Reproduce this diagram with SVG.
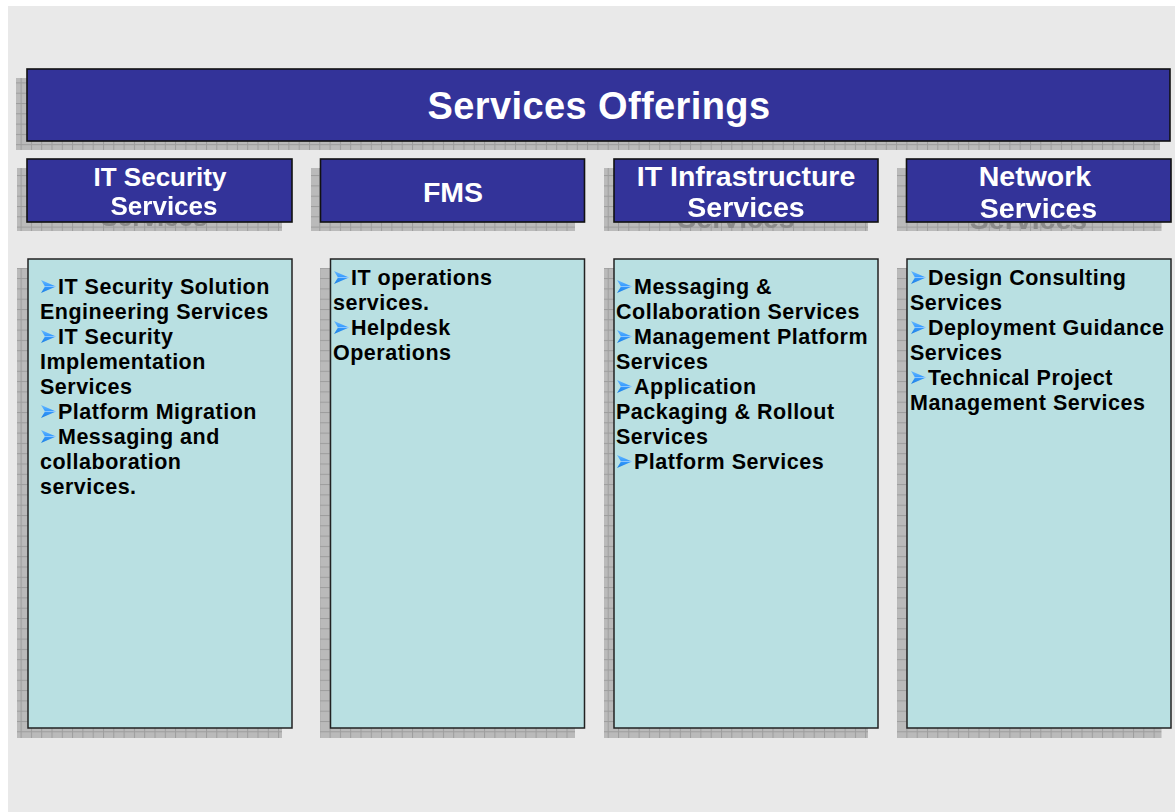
<svg xmlns="http://www.w3.org/2000/svg" width="1175" height="812" viewBox="0 0 1175 812">
<style>
.bg{fill:#e9e9e9}
.shadow{fill:url(#grid)}
.hdr{fill:#333399;stroke:#111;stroke-width:1.6}
.box{fill:#b9e0e2;stroke:#222;stroke-width:1.5}
.title{font-family:"Liberation Sans",Arial,sans-serif;font-weight:bold;font-size:38px;fill:#fff;letter-spacing:0.4px}
.ht{font-family:"Liberation Sans",Arial,sans-serif;font-weight:bold;font-size:28.5px;fill:#fff}
.ht.s{font-size:26px}
.ghosted{filter:url(#ghost)}
.ct{font-family:"Liberation Sans",Arial,sans-serif;font-weight:bold;font-size:21.5px;fill:#000;letter-spacing:0.5px}
</style>
<defs>
<pattern id="grid" width="10.3" height="10.3" patternUnits="userSpaceOnUse">
<rect width="10.3" height="10.3" fill="#bababa"/>
<rect width="10.3" height="1" fill="#9d9d9d"/>
<rect width="1" height="10.3" fill="#9d9d9d"/>
</pattern>
<filter id="ghost" filterUnits="userSpaceOnUse" primitiveUnits="userSpaceOnUse" x="0" y="150" width="1175" height="100">
<feOffset in="SourceAlpha" dx="-10" dy="11" result="o"/>
<feFlood flood-color="#8a8a8a" result="f"/>
<feComposite in="f" in2="o" operator="in" x="0" y="223" width="1175" height="20" result="sh"/>
<feMerge><feMergeNode in="sh"/><feMergeNode in="SourceGraphic"/></feMerge>
</filter>
<linearGradient id="bg1" x1="0" y1="0" x2="0" y2="1">
<stop offset="0" stop-color="#66b8ff"/>
<stop offset="0.5" stop-color="#3399ff"/>
<stop offset="1" stop-color="#1f7fe0"/>
</linearGradient>
<symbol id="bul" viewBox="0 0 15 13" width="15" height="13">
<polygon points="0,0 15,6.5 0,13 4,6.5" fill="url(#bg1)"/>
<polyline points="4,6.5 15,6.5" stroke="#9fd0ff" stroke-width="0.8" fill="none"/>
</symbol>
</defs>
<rect x="8" y="6" width="1167" height="806" class="bg"/>

<g id="title">
<rect x="16" y="78" width="1144" height="72" class="shadow"/>
<rect x="27" y="69" width="1143" height="72" class="hdr"/>
<text x="599" y="118.5" text-anchor="middle" class="title">Services Offerings</text>
</g>

<g id="col1-header">
<rect x="17" y="168" width="265" height="63" class="shadow"/>
<rect x="27" y="159" width="265" height="63" class="hdr"/>
<text x="160" y="186" text-anchor="middle" class="ht s">IT Security</text>
<text x="164" y="215" text-anchor="middle" class="ht s ghosted">Services</text>
</g>

<g id="col2-header">
<rect x="311" y="168" width="264" height="63" class="shadow"/>
<rect x="320.5" y="159" width="264" height="63" class="hdr"/>
<text x="453" y="201.5" text-anchor="middle" class="ht">FMS</text>
</g>

<g id="col3-header">
<rect x="604" y="168" width="264" height="63" class="shadow"/>
<rect x="614" y="159" width="264" height="63" class="hdr"/>
<text x="746" y="186" text-anchor="middle" class="ht">IT Infrastructure</text>
<text x="746" y="217" text-anchor="middle" class="ht ghosted">Services</text>
</g>

<g id="col4-header">
<rect x="897" y="168" width="264.5" height="63" class="shadow"/>
<rect x="906.5" y="159" width="264.5" height="63" class="hdr"/>
<text x="1035" y="186" text-anchor="middle" class="ht">Network</text>
<text x="1038.5" y="217.5" text-anchor="middle" class="ht ghosted">Services</text>
</g>

<g id="col1-box">
<rect x="17" y="268" width="265" height="470" class="shadow"/>
<rect x="28" y="259" width="264" height="469" class="box"/>
<use href="#bul" x="41" y="280"/>
<text x="58" y="294" class="ct">IT Security Solution</text>
<text x="40" y="319" class="ct">Engineering Services</text>
<use href="#bul" x="41" y="330"/>
<text x="58" y="344" class="ct">IT Security</text>
<text x="40" y="369" class="ct">Implementation</text>
<text x="40" y="394" class="ct">Services</text>
<use href="#bul" x="41" y="405"/>
<text x="58" y="419" class="ct">Platform Migration</text>
<use href="#bul" x="41" y="430"/>
<text x="58" y="444" class="ct">Messaging and</text>
<text x="40" y="469" class="ct">collaboration</text>
<text x="40" y="494" class="ct">services.</text>
</g>

<g id="col2-box">
<rect x="320" y="268" width="255" height="470" class="shadow"/>
<rect x="330.5" y="259" width="254" height="469" class="box"/>
<use href="#bul" x="334" y="271"/>
<text x="351" y="285" class="ct">IT operations</text>
<text x="333" y="310" class="ct">services.</text>
<use href="#bul" x="334" y="321"/>
<text x="351" y="335" class="ct">Helpdesk</text>
<text x="333" y="360" class="ct">Operations</text>
</g>

<g id="col3-box">
<rect x="604" y="268" width="264" height="470" class="shadow"/>
<rect x="614" y="259" width="264" height="469" class="box"/>
<use href="#bul" x="617" y="280"/>
<text x="634" y="294" class="ct">Messaging &amp;</text>
<text x="616" y="319" class="ct">Collaboration Services</text>
<use href="#bul" x="617" y="330"/>
<text x="634" y="344" class="ct">Management Platform</text>
<text x="616" y="369" class="ct">Services</text>
<use href="#bul" x="617" y="380"/>
<text x="634" y="394" class="ct">Application</text>
<text x="616" y="419" class="ct">Packaging &amp; Rollout</text>
<text x="616" y="444" class="ct">Services</text>
<use href="#bul" x="617" y="455"/>
<text x="634" y="469" class="ct">Platform Services</text>
</g>

<g id="col4-box">
<rect x="897" y="268" width="264.5" height="470" class="shadow"/>
<rect x="907" y="259" width="264" height="469" class="box"/>
<use href="#bul" x="911" y="271"/>
<text x="928" y="285" class="ct">Design Consulting</text>
<text x="910" y="310" class="ct">Services</text>
<use href="#bul" x="911" y="321"/>
<text x="928" y="335" class="ct">Deployment Guidance</text>
<text x="910" y="360" class="ct">Services</text>
<use href="#bul" x="911" y="371"/>
<text x="928" y="385" class="ct">Technical Project</text>
<text x="910" y="410" class="ct">Management Services</text>
</g>

<g id="connectors"></g>
</svg>
